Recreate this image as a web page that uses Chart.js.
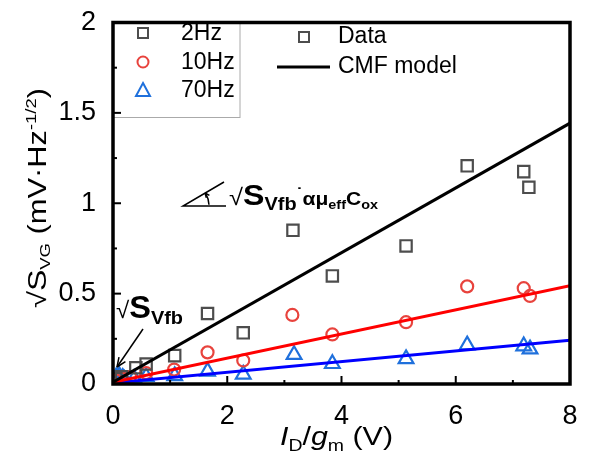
<!DOCTYPE html>
<html>
<head>
<meta charset="utf-8">
<script src="https://cdn.jsdelivr.net/npm/chart.js@4"></script>
<style>
  html, body { margin: 0; padding: 0; background: #fff; }
  #wrap { width: 594px; height: 461px; }
</style>
</head>
<body>
<div id="wrap"><canvas id="cv" width="594" height="461"></canvas></div>
<script>
// Values.
const x2Hz = [0.05, 0.15, 0.40, 0.58, 1.08, 1.655, 2.28, 3.15, 3.84, 5.13, 6.20, 7.19, 7.28];
const y2Hz = [0.03, 0.04, 0.09, 0.11, 0.157, 0.39, 0.283, 0.85, 0.598, 0.764, 1.207, 1.175, 1.088];

const x10Hz = [0.05, 0.15, 0.30, 0.58, 1.07, 1.655, 2.28, 3.14, 3.84, 5.13, 6.20, 7.19, 7.30];
const y10Hz = [0.02, 0.03, 0.04, 0.06, 0.08, 0.175, 0.13, 0.382, 0.274, 0.342, 0.54, 0.53, 0.487];

const x70Hz = [0.03, 0.06, 0.08, 0.11, 0.13, 0.17, 0.20, 0.37, 0.58, 1.08, 1.655, 2.28, 3.17, 3.84, 5.13, 6.20, 7.19, 7.30];
const y70Hz = [0.02, 0.04, 0.03, 0.045, 0.015, 0.035, 0.025, 0.03, 0.04, 0.045, 0.07, 0.053, 0.162, 0.112, 0.139, 0.215, 0.21, 0.193];

// CMF model fits, end points
const fitX = [0, 8];
const fitBlack = [0.01, 1.443];
const fitRed = [0.01, 0.544];
const fitBlue = [0.006, 0.242];

const xTickLabels = ['0', '2', '4', '6', '8'];
const yTickLabels = ['0', '0.5', '1', '1.5', '2'];

const FONT = '"Liberation Sans", Arial, sans-serif';
const C_SQ = '#4d4d4d';
const C_CI = '#e8433d';
const C_TR = '#1f70dc';

const pts = (xs, ys) => xs.map((x, i) => ({ x, y: ys[i] }));

// draw a run of text pieces (for sub/superscripts), returns width
function drawRuns(ctx, x, y, runs, measureOnly) {
    let cx = x;
    runs.forEach(r => {
        ctx.font = r.font;
        if (!measureOnly) ctx.fillText(r.t, cx, y + (r.dy || 0));
        cx += ctx.measureText(r.t).width;
    });
    return cx - x;
}

// runs stretched horizontally to a target width, starting at x
function drawRunsFit(ctx, x, y, runs, width) {
    const w = drawRuns(ctx, 0, 0, runs, true);
    ctx.save();
    ctx.translate(x, y);
    ctx.scale(width / w, 1);
    drawRuns(ctx, 0, 0, runs);
    ctx.restore();
}

function arrowHead(ctx, x1, y1, x2, y2, len) {
    const a = Math.atan2(y2 - y1, x2 - x1);
    ctx.beginPath();
    ctx.moveTo(x2, y2);
    ctx.lineTo(x2 - len * Math.cos(a - 0.4), y2 - len * Math.sin(a - 0.4));
    ctx.moveTo(x2, y2);
    ctx.lineTo(x2 - len * Math.cos(a + 0.4), y2 - len * Math.sin(a + 0.4));
    ctx.stroke();
}

const decor = {
    id: 'decor',
    afterDraw(chart) {
        const ctx = chart.ctx;
        const a = chart.chartArea;
        const xs = chart.scales.x, ys = chart.scales.y;
        ctx.save();
        ctx.fillStyle = '#000';
        ctx.strokeStyle = '#000';

        // inward ticks
        ctx.lineWidth = 2;
        for (let v = 1; v < 8; v++) {
            const px = xs.getPixelForValue(v);
            const len = v % 2 === 0 ? 8 : 4;
            ctx.beginPath(); ctx.moveTo(px, a.bottom); ctx.lineTo(px, a.bottom - len); ctx.stroke();
        }
        for (let v = 0.25; v < 2; v += 0.25) {
            const py = ys.getPixelForValue(v);
            const len = Math.abs(v * 2 - Math.round(v * 2)) < 1e-6 ? 8 : 4;
            ctx.beginPath(); ctx.moveTo(a.left, py); ctx.lineTo(a.left + len, py); ctx.stroke();
        }

        // legend box (series)
        ctx.lineWidth = 1;
        ctx.strokeStyle = '#aaa';
        ctx.strokeRect(a.left, a.top, 127, 95);

        ctx.lineWidth = 2;
        ctx.strokeStyle = C_SQ;
        ctx.strokeRect(138, 28, 10, 10);
        ctx.strokeStyle = C_CI;
        ctx.beginPath(); ctx.arc(143, 62, 5.5, 0, Math.PI * 2); ctx.stroke();
        ctx.strokeStyle = C_TR;
        ctx.beginPath(); ctx.moveTo(143, 83); ctx.lineTo(150, 96); ctx.lineTo(136, 96); ctx.closePath(); ctx.stroke();

        ctx.textBaseline = 'middle';
        ctx.font = '23px ' + FONT;
        ctx.fillText('2Hz', 181, 34);
        ctx.fillText('10Hz', 181, 63);
        ctx.fillText('70Hz', 181, 91);

        // legend (marker types)
        ctx.strokeStyle = C_SQ;
        ctx.strokeRect(299, 32, 10, 10);
        ctx.strokeStyle = '#000';
        ctx.lineWidth = 3;
        ctx.beginPath(); ctx.moveTo(277, 67); ctx.lineTo(330, 67); ctx.stroke();
        ctx.font = '23px ' + FONT;
        ctx.fillText('Data', 338, 37);
        ctx.fillText('CMF model', 338, 67);

        // frame
        ctx.lineWidth = 3.5;
        ctx.strokeRect(a.left, a.top, a.right - a.left, a.bottom - a.top);

        // sqrt(S_Vfb) annotation with arrow
        ctx.textBaseline = 'alphabetic';
        ctx.lineWidth = 1.5;
        drawRunsFit(ctx, 116, 318, [
            { t: '\u221A', font: '23px ' + FONT },
            { t: 'S', font: 'bold 31px ' + FONT },
            { t: 'Vfb', font: 'bold 19px ' + FONT, dy: 6 }
        ], 67);
        ctx.beginPath(); ctx.moveTo(143, 329); ctx.lineTo(117, 367); ctx.stroke();
        arrowHead(ctx, 143, 329, 117, 367, 10);

        // slope annotation
        ctx.lineWidth = 1.5;
        ctx.beginPath();
        ctx.moveTo(226, 206); ctx.lineTo(183, 206); ctx.lineTo(224, 182);
        ctx.stroke();
        ctx.beginPath(); ctx.arc(183, 206, 26, -0.52, -0.05); ctx.stroke();
        arrowHead(ctx, 209, 198, 205, 193, 5);
        drawRunsFit(ctx, 229, 205, [
            { t: '\u221A', font: '23px ' + FONT },
            { t: 'S', font: 'bold 29px ' + FONT },
            { t: 'Vfb', font: 'bold 18px ' + FONT, dy: 5 },
            { t: '\u02D9', font: 'bold 16px ' + FONT, dy: -6 },
            { t: '\u03B1\u03BC', font: 'bold 19px ' + FONT },
            { t: 'eff', font: 'bold 13px ' + FONT, dy: 4 },
            { t: 'C', font: 'bold 19px ' + FONT },
            { t: 'ox', font: 'bold 13px ' + FONT, dy: 4 }
        ], 149);

        // x axis title
        drawRunsFit(ctx, 280, 445, [
            { t: 'I', font: 'italic 25px ' + FONT },
            { t: 'D', font: '16px ' + FONT, dy: 6 },
            { t: '/', font: '25px ' + FONT },
            { t: 'g', font: 'italic 25px ' + FONT },
            { t: 'm', font: '16px ' + FONT, dy: 6 },
            { t: ' (V)', font: '25px ' + FONT }
        ], 113);

        // y axis title (rotated)
        ctx.translate(46, 308);
        ctx.rotate(-Math.PI / 2);
        drawRunsFit(ctx, 0, 0, [
            { t: '\u221A', font: '25px ' + FONT },
            { t: 'S', font: '26px ' + FONT },
            { t: 'VG', font: '15px ' + FONT, dy: 4 },
            { t: ' (mV\u00B7Hz', font: '25px ' + FONT },
            { t: '-1/2', font: '15px ' + FONT, dy: -10 },
            { t: ')', font: '25px ' + FONT }
        ], 220);
        ctx.restore();
    }
};

new Chart(document.getElementById('cv'), {
    type: 'scatter',
    data: {
        datasets: [
            { label: 'fit 2Hz', type: 'line', data: pts(fitX, fitBlack), borderColor: '#000', borderWidth: 3, pointRadius: 0, order: 1 },
            { label: 'fit 10Hz', type: 'line', data: pts(fitX, fitRed), borderColor: '#ff0000', borderWidth: 3, pointRadius: 0, order: 1 },
            { label: 'fit 70Hz', type: 'line', data: pts(fitX, fitBlue), borderColor: '#0000ff', borderWidth: 3, pointRadius: 0, order: 1 },
            { label: '2Hz', data: pts(x2Hz, y2Hz), pointStyle: 'rect', pointRadius: 8, borderColor: C_SQ, backgroundColor: 'rgba(0,0,0,0)', borderWidth: 2.2, order: 2 },
            { label: '10Hz', data: pts(x10Hz, y10Hz), pointStyle: 'circle', pointRadius: 6, borderColor: C_CI, backgroundColor: 'rgba(0,0,0,0)', borderWidth: 2.2, order: 2 },
            { label: '70Hz', data: pts(x70Hz, y70Hz), pointStyle: 'triangle', pointRadius: 8.5, borderColor: C_TR, backgroundColor: 'rgba(0,0,0,0)', borderWidth: 2.2, order: 2 }
        ]
    },
    options: {
        responsive: false,
        animation: false,
        layout: { padding: { left: 0, top: 14, right: 24, bottom: 0 } },
        plugins: { legend: { display: false }, tooltip: { enabled: false } },
        scales: {
            x: {
                min: 0, max: 8,
                grid: { display: false },
                border: { display: false },
                ticks: {
                    stepSize: 2, padding: 11, color: '#000',
                    font: { family: FONT, size: 27, lineHeight: 1 },
                    maxRotation: 0,
                    callback: (v, i) => xTickLabels[i]
                },
                afterFit: s => { s.height = 77; }
            },
            y: {
                min: 0, max: 2,
                grid: { display: false },
                border: { display: false },
                ticks: {
                    stepSize: 0.5, padding: 9, color: '#000',
                    font: { family: FONT, size: 27, lineHeight: 1 },
                    callback: (v, i) => yTickLabels[i]
                },
                afterFit: s => { s.width = 113; }
            }
        }
    },
    plugins: [decor]
});
</script>
</body>
</html>
